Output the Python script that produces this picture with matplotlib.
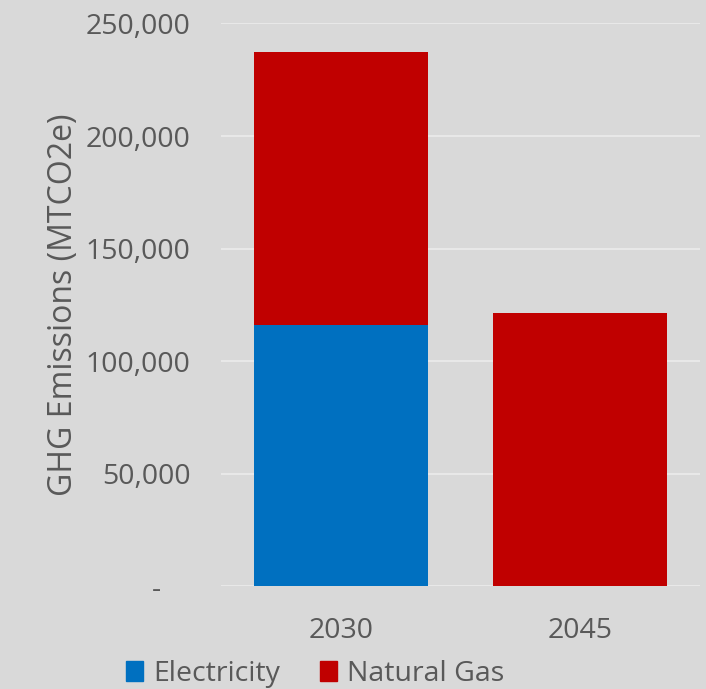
import matplotlib.pyplot as plt
from matplotlib.ticker import FuncFormatter
from matplotlib.patches import Patch

# GHG emissions by source, MTCO2e
years = ['2030', '2045']
electricity = [116000, 0]
natural_gas = [121500, 121500]

BG = '#d9d9d9'
TEXT = '#595959'
BLUE = '#0070c0'
RED = '#c00000'

plt.rcParams['font.family'] = ['Open Sans', 'DejaVu Sans']

fig = plt.figure(figsize=(7.06, 6.89), dpi=100, facecolor=BG)
ax = fig.add_axes([0.313, 0.149, 0.678, 0.817], facecolor=BG)

x = range(len(years))
ax.bar(x, electricity, width=0.726, color=BLUE, zorder=2)
ax.bar(x, natural_gas, width=0.726, bottom=electricity, color=RED, zorder=2)

ax.set_xlim(-0.5, 1.5)
ax.set_ylim(0, 250000)
ax.set_yticks(range(0, 250001, 50000))
# accounting-style zero: a dash padded away from the axis
ax.yaxis.set_major_formatter(FuncFormatter(lambda v, _: '-    ' if v == 0 else f'{v:,.0f}'))
ax.grid(axis='y', color='#ececec', linewidth=1.2, zorder=0)
ax.set_axisbelow(True)
for s in ax.spines.values():
    s.set_visible(False)
ax.tick_params(length=0, labelsize=20.5, colors=TEXT, pad=22)
ax.tick_params(axis='x', pad=22)
ax.set_xticks(list(x))
ax.set_xticklabels(years)

ax.set_ylabel('GHG Emissions (MTCO2e)', fontsize=23, color=TEXT, labelpad=4)

handles = [Patch(color=BLUE, label='Electricity'), Patch(color=RED, label='Natural Gas')]
fig.legend(handles=handles, loc='lower center', bbox_to_anchor=(0.446, -0.036), ncol=2,
           frameon=False, fontsize=20.5, labelcolor=TEXT, handlelength=0.6,
           handleheight=0.7, handletextpad=0.35, columnspacing=1.4)

fig.savefig('out.png', dpi=100, facecolor=BG)
